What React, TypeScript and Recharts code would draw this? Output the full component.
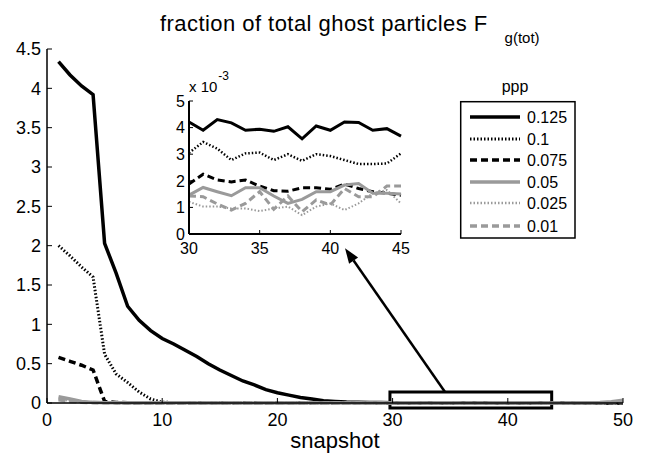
import React from "react";
import {
  LineChart,
  Line,
  XAxis,
  YAxis,
  ReferenceArea,
  ReferenceLine,
  Legend,
} from "recharts";

// snapshot index (x) for the main plot and the zoomed inset
const snapshots = Array.from({ length: 50 }, (_, i) => i + 1);
const insetSnapshots = [30, 31, 32, 33, 34, 35, 36, 37, 38, 39, 40, 41, 42, 43, 44, 45];

const pppLabels = ["0.125", "0.1", "0.075", "0.05", "0.025", "0.01"];

// main plot values, snapshots 1..50
const f0125 = [
  4.34, 4.17, 4.03, 3.92, 2.03, 1.65, 1.23, 1.05, 0.92, 0.82,
  0.75, 0.67, 0.59, 0.5, 0.42, 0.35, 0.28, 0.23, 0.17, 0.13,
  0.1, 0.07, 0.05, 0.03, 0.02, 0.012, 0.008, 0.006, 0.005, 0.0042,
  0.0039, 0.0043, 0.0042, 0.0039, 0.0039, 0.0039, 0.004, 0.0036, 0.0041, 0.0039,
  0.0042, 0.0042, 0.0039, 0.004, 0.0037, 0.0039, 0.004, 0.0038, 0.0041, 0.004,
];
const f01 = [
  2.0, 1.87, 1.73, 1.6, 0.62, 0.37, 0.26, 0.14, 0.05, 0.01,
  0.006, 0.005, 0.004, 0.004, 0.0035, 0.0034, 0.0033, 0.0032, 0.0031, 0.0031,
  0.003, 0.003, 0.0031, 0.003, 0.0029, 0.003, 0.003, 0.0031, 0.003, 0.0031,
  0.0035, 0.0032, 0.0028, 0.003, 0.0031, 0.0028, 0.003, 0.0028, 0.003, 0.0029,
  0.0028, 0.0026, 0.0026, 0.0027, 0.003, 0.0029, 0.003, 0.0028, 0.003, 0.0029,
];
const f0075 = [
  0.58, 0.53, 0.48, 0.42, 0.02, 0.006, 0.004, 0.003, 0.0025, 0.0022,
  0.0021, 0.002, 0.002, 0.0019, 0.002, 0.0019, 0.0018, 0.0019, 0.0018, 0.0019,
  0.0018, 0.0019, 0.0018, 0.0018, 0.0019, 0.0018, 0.0019, 0.0018, 0.0019, 0.0019,
  0.0023, 0.002, 0.002, 0.002, 0.0018, 0.0016, 0.0016, 0.0017, 0.0017, 0.0017,
  0.0019, 0.0017, 0.0016, 0.0015, 0.0015, 0.0016, 0.0017, 0.0016, 0.0015, 0.0016,
];
const f005 = [
  0.08, 0.05, 0.02, 0.008, 0.004, 0.003, 0.0025, 0.002, 0.0018, 0.0017,
  0.0016, 0.0016, 0.0015, 0.0016, 0.0015, 0.0016, 0.0015, 0.0015, 0.0016, 0.0015,
  0.0016, 0.0015, 0.0016, 0.0015, 0.0016, 0.0015, 0.0016, 0.0015, 0.0016, 0.0015,
  0.0018, 0.0016, 0.0014, 0.0017, 0.0017, 0.0014, 0.0012, 0.0013, 0.0016, 0.0016,
  0.0018, 0.0019, 0.0015, 0.0015, 0.0015, 0.002, 0.003, 0.006, 0.015, 0.035,
];
const f0025 = [
  0.05, 0.03, 0.012, 0.005, 0.003, 0.002, 0.0015, 0.0013, 0.0012, 0.0011,
  0.0011, 0.001, 0.0011, 0.001, 0.0011, 0.001, 0.0011, 0.001, 0.001, 0.0011,
  0.001, 0.0011, 0.001, 0.0011, 0.001, 0.0011, 0.001, 0.0011, 0.001, 0.0012,
  0.001, 0.001, 0.001, 0.001, 0.0009, 0.001, 0.001, 0.0007, 0.001, 0.0012,
  0.0009, 0.0012, 0.0015, 0.0017, 0.0012, 0.0012, 0.0013, 0.0014, 0.002, 0.004,
];
const f001 = [
  0.04, 0.02, 0.01, 0.004, 0.002, 0.0016, 0.0014, 0.0013, 0.0013, 0.0012,
  0.0013, 0.0012, 0.0013, 0.0012, 0.0013, 0.0012, 0.0013, 0.0012, 0.0013, 0.0012,
  0.0013, 0.0012, 0.0013, 0.0012, 0.0013, 0.0012, 0.0013, 0.0012, 0.0013, 0.0014,
  0.0014, 0.0011, 0.0009, 0.0012, 0.0016, 0.0009, 0.0014, 0.0008, 0.0013, 0.0011,
  0.0017, 0.0014, 0.0014, 0.0018, 0.0018, 0.0017, 0.0018, 0.0017, 0.0025, 0.005,
];

// inset values (x 10^-3), snapshots 30..45
const i0125 = [4.21, 3.9, 4.3, 4.18, 3.9, 3.94, 3.86, 4.03, 3.58, 4.06, 3.9, 4.21, 4.19, 3.9, 3.96, 3.68];
const i01 = [3.05, 3.46, 3.21, 2.78, 3.03, 3.06, 2.78, 3.0, 2.75, 3.0, 2.93, 2.78, 2.63, 2.63, 2.65, 3.03];
const i0075 = [1.88, 2.25, 2.03, 1.96, 2.03, 1.8, 1.63, 1.61, 1.74, 1.74, 1.68, 1.88, 1.71, 1.59, 1.53, 1.46];
const i005 = [1.46, 1.75, 1.59, 1.44, 1.74, 1.74, 1.43, 1.15, 1.3, 1.59, 1.59, 1.84, 1.9, 1.53, 1.53, 1.5];
const i0025 = [1.21, 1.03, 1.03, 0.96, 0.96, 0.86, 0.96, 1.03, 0.71, 1.03, 1.15, 0.9, 1.15, 1.53, 1.65, 1.15];
const i001 = [1.43, 1.4, 1.13, 0.9, 1.15, 1.59, 0.93, 1.43, 0.84, 1.28, 1.09, 1.71, 1.4, 1.4, 1.8, 1.8];

const mainTicksX = [0, 10, 20, 30, 40, 50];
const mainTicksY = [0, 0.5, 1, 1.5, 2, 2.5, 3, 3.5, 4, 4.5];
const insetTicksX = [30, 35, 40, 45];
const insetTicksY = [0, 1, 2, 3, 4, 5];

const FONT = "'Liberation Sans', Arial, Helvetica, sans-serif";
const GREY = "#9a9a9a";

const styles = [
  { key: "p0125", color: "#000", width: 3.5, dash: undefined as string | undefined },
  { key: "p01", color: "#000", width: 3, dash: "1.5 2" },
  { key: "p0075", color: "#000", width: 3.5, dash: "7 4" },
  { key: "p005", color: GREY, width: 3.5, dash: undefined },
  { key: "p0025", color: GREY, width: 2.5, dash: "1.5 2" },
  { key: "p001", color: GREY, width: 3.5, dash: "7 4" },
];

const mainSeries = [f0125, f01, f0075, f005, f0025, f001];
const insetSeries = [i0125, i01, i0075, i005, i0025, i001];

const mainRows = snapshots.map((x, i) => {
  const row: Record<string, number> = { x };
  styles.forEach((s, k) => (row[s.key] = mainSeries[k][i]));
  return row;
});
const insetRows = insetSnapshots.map((x, i) => {
  const row: Record<string, number> = { x };
  styles.forEach((s, k) => (row[s.key] = insetSeries[k][i]));
  return row;
});

// MATLAB style ticks: short marks pointing into the box
const makeBottomTick = (size: number, len: number, drop: number) => (p: any) => (
  <g>
    <line x1={p.x} y1={p.y} x2={p.x} y2={p.y - len} stroke="#000" strokeWidth={1} />
    <text x={p.x} y={p.y + drop} textAnchor="middle" fontSize={size} fontFamily={FONT} fill="#000">
      {p.payload.value}
    </text>
  </g>
);
const makeLeftTick = (size: number, len: number, gap: number) => (p: any) => (
  <g>
    <line x1={p.x} y1={p.y} x2={p.x + len} y2={p.y} stroke="#000" strokeWidth={1} />
    <text x={p.x - gap} y={p.y + size * 0.36} textAnchor="end" fontSize={size} fontFamily={FONT} fill="#000">
      {p.payload.value}
    </text>
  </g>
);
const makeTopTick = (len: number) => (p: any) => (
  <line x1={p.x} y1={p.y} x2={p.x} y2={p.y + len} stroke="#000" strokeWidth={1} />
);
const makeRightTick = (len: number) => (p: any) => (
  <line x1={p.x} y1={p.y} x2={p.x - len} y2={p.y} stroke="#000" strokeWidth={1} />
);

const Arrow = (p: any) => {
  const { x1, y1, x2, y2 } = p;
  const ang = Math.atan2(y2 - y1, x2 - x1);
  const L = 15;
  const W = 5.5;
  const bx = x2 - L * Math.cos(ang);
  const by = y2 - L * Math.sin(ang);
  const nx = -Math.sin(ang) * W;
  const ny = Math.cos(ang) * W;
  return (
    <g>
      <line x1={x1} y1={y1} x2={bx} y2={by} stroke="#000" strokeWidth={2.5} />
      <polygon points={`${x2},${y2} ${bx + nx},${by + ny} ${bx - nx},${by - ny}`} fill="#000" />
    </g>
  );
};

const LegendBox = () => {
  const rowY = [47, 69, 90, 112, 133, 156];
  return (
    <svg width={160} height={175} style={{ display: "block" }}>
      <text x={75} y={22} textAnchor="middle" fontSize={16} fontFamily={FONT} fill="#000">
        ppp
      </text>
      <rect x={20.7} y={31.7} width={114.3} height={136.3} fill="#fff" stroke="#000" strokeWidth={1.5} />
      {styles.map((s, i) => (
        <g key={s.key}>
          <line
            x1={30}
            y1={rowY[i]}
            x2={80}
            y2={rowY[i]}
            stroke={s.color}
            strokeWidth={s.width}
            strokeDasharray={s.dash}
          />
          <text x={87} y={rowY[i] + 6} fontSize={16} fontFamily={FONT} fill="#000">
            {pppLabels[i]}
          </text>
        </g>
      ))}
    </svg>
  );
};

export default function App() {
  return (
    <div style={{ position: "fixed", left: 0, top: 0, width: 646, height: 459, background: "#fff", fontFamily: FONT }}>
      <LineChart width={646} height={459} data={mainRows} margin={{ top: 49, right: 23, bottom: 0, left: 0 }}>
        <XAxis
          xAxisId="b"
          dataKey="x"
          type="number"
          domain={[0, 50]}
          ticks={mainTicksX}
          interval={0}
          height={56}
          tickSize={0}
          tickMargin={0}
          tickLine={false}
          axisLine={{ stroke: "#000", strokeWidth: 1.5 }}
          tick={makeBottomTick(18, 5, 23)}
          label={{ value: "snapshot", position: "insideBottom", offset: 11, fontSize: 22, fill: "#000", fontFamily: FONT }}
        />
        <XAxis
          xAxisId="t"
          orientation="top"
          dataKey="x"
          type="number"
          domain={[0, 50]}
          ticks={mainTicksX}
          interval={0}
          height={0}
          tickSize={0}
          tickMargin={0}
          tickLine={false}
          axisLine={{ stroke: "#000", strokeWidth: 1 }}
          tick={makeTopTick(5)}
        />
        <YAxis
          yAxisId="l"
          type="number"
          domain={[0, 4.5]}
          ticks={mainTicksY}
          interval={0}
          width={47}
          tickSize={0}
          tickMargin={0}
          tickLine={false}
          axisLine={{ stroke: "#000", strokeWidth: 1.5 }}
          tick={makeLeftTick(18, 5, 6)}
        />
        <YAxis
          yAxisId="r"
          orientation="right"
          type="number"
          domain={[0, 4.5]}
          ticks={mainTicksY}
          interval={0}
          width={0}
          tickSize={0}
          tickMargin={0}
          tickLine={false}
          axisLine={{ stroke: "#000", strokeWidth: 1 }}
          tick={makeRightTick(5)}
        />
        {styles.map((s, i) => (
          <Line
            key={s.key}
            xAxisId="b"
            yAxisId="l"
            dataKey={s.key}
            name={pppLabels[i]}
            stroke={s.color}
            strokeWidth={s.width}
            strokeDasharray={s.dash}
            dot={false}
            activeDot={false}
            isAnimationActive={false}
          />
        ))}
        <ReferenceArea
          xAxisId="b"
          yAxisId="l"
          x1={29.77}
          x2={43.81}
          y1={-0.064}
          y2={0.14}
          ifOverflow="visible"
          fill="none"
          fillOpacity={0}
          stroke="#000"
          strokeWidth={3}
        />
        <ReferenceLine
          xAxisId="b"
          yAxisId="l"
          segment={[
            { x: 34.55, y: 0.14 },
            { x: 25.87, y: 1.967 },
          ]}
          ifOverflow="visible"
          shape={Arrow}
        />
        <Legend
          layout="horizontal"
          verticalAlign="middle"
          align="center"
          wrapperStyle={{ left: 440, top: 70, width: 160, height: 175 }}
          content={LegendBox}
        />
      </LineChart>

      <div style={{ position: "absolute", left: 0, top: 0, pointerEvents: "none" }}>
        <LineChart width={646} height={459} data={insetRows} margin={{ top: 101, right: 245, bottom: 0, left: 159 }}>
          <XAxis
            xAxisId="b"
            dataKey="x"
            type="number"
            domain={[30, 45]}
            ticks={insetTicksX}
            interval={0}
            height={225}
            tickSize={0}
            tickMargin={0}
            tickLine={false}
            axisLine={{ stroke: "#000", strokeWidth: 2 }}
            tick={makeBottomTick(16, 4, 20)}
          />
          <XAxis
            xAxisId="t"
            orientation="top"
            dataKey="x"
            type="number"
            domain={[30, 45]}
            ticks={insetTicksX}
            interval={0}
            height={0}
            tickSize={0}
            tickMargin={0}
            tickLine={false}
            axisLine={{ stroke: "#000", strokeWidth: 1 }}
            tick={makeTopTick(4)}
          />
          <YAxis
            yAxisId="l"
            type="number"
            domain={[0, 5]}
            ticks={insetTicksY}
            interval={0}
            width={30}
            tickSize={0}
            tickMargin={0}
            tickLine={false}
            axisLine={{ stroke: "#000", strokeWidth: 2 }}
            tick={makeLeftTick(16, 4, 4)}
          />
          <YAxis
            yAxisId="r"
            orientation="right"
            type="number"
            domain={[0, 5]}
            ticks={insetTicksY}
            interval={0}
            width={0}
            tickSize={0}
            tickMargin={0}
            tickLine={false}
            axisLine={{ stroke: "#000", strokeWidth: 1 }}
            tick={makeRightTick(4)}
          />
          {styles.map((s, i) => (
            <Line
              key={s.key}
              xAxisId="b"
              yAxisId="l"
              dataKey={s.key}
              name={pppLabels[i]}
              stroke={s.color}
              strokeWidth={s.width - 0.5}
              strokeDasharray={s.dash}
              dot={false}
              activeDot={false}
              isAnimationActive={false}
            />
          ))}
        </LineChart>
      </div>

      <svg width={646} height={100} style={{ position: "absolute", left: 0, top: 0, pointerEvents: "none" }}>
        <text x={160} y={31} fontSize={22} letterSpacing={0.45} fontFamily={FONT} fill="#000">
          fraction of total ghost particles F
          <tspan dx={17} dy={12} fontSize={15} letterSpacing={0}>
            g(tot)
          </tspan>
        </text>
        <text x={189} y={92} fontSize={15} fontFamily={FONT} fill="#000">
          x 10
          <tspan dx={1} dy={-12} fontSize={12}>
            -3
          </tspan>
        </text>
      </svg>
    </div>
  );
}
